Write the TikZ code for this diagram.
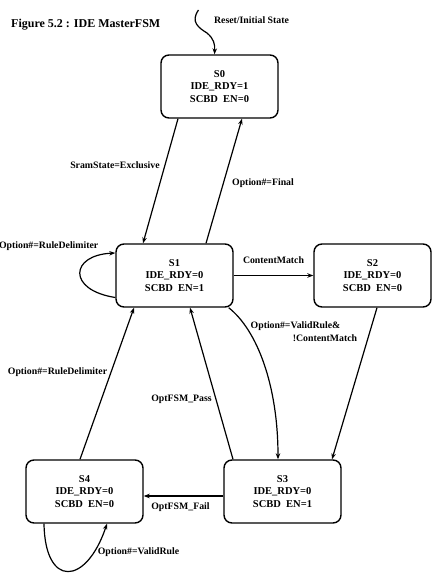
\documentclass[tikz,border=0pt]{standalone}
\usepackage{fontspec}
\setmainfont{Liberation Serif}
\usetikzlibrary{arrows.meta,calc}
\begin{document}
\begin{tikzpicture}[x=1pt,y=-1pt,
  statebox/.style={draw,line width=1.4pt,rounded corners=8pt,minimum width=117pt,minimum height=63pt,inner sep=0pt,align=center,font=\fontsize{10.5}{12.5}\selectfont\bfseries},
  lbl/.style={inner sep=0pt,font=\fontsize{9.8}{11.5}\selectfont\bfseries},
  edge/.style={line width=1.2pt,-{Stealth[length=6pt,width=4.5pt]}}]
\useasboundingbox (0,0) rectangle (433,574);
\node[statebox] (S0) at (219.5,86.5) {S0\\IDE\_RDY=1\\SCBD\ \ EN=0};
\node[statebox] (S1) at (174.5,275.5) {S1\\IDE\_RDY=0\\SCBD\ \ EN=1};
\node[statebox] (S2) at (372.5,275.5) {S2\\IDE\_RDY=0\\SCBD\ \ EN=0};
\node[statebox] (S3) at (282.5,491.5) {S3\\IDE\_RDY=0\\SCBD\ \ EN=1};
\node[statebox] (S4) at (84.5,491.5) {S4\\IDE\_RDY=0\\SCBD\ \ EN=0};
\node[inner sep=0pt,anchor=west,font=\fontsize{12}{14}\selectfont\bfseries] (title) at (11,25) {Figure 5.2 : IDE MasterFSM};
\coordinate (init) at (198.5,10);
\draw[edge] (init) .. controls (190,22) and (199,28) .. (207,33) .. controls (214,39) and (215,44) .. ($(S0.north)+(-5,0)$);
\node[lbl] (lreset) at (251.5,20) {Reset/Initial State};
% S0 -> S1
\draw[edge] ($(S0.south)+(-41.5,0)$) -- ($(S1.north)+(-31.5,0)$);
\node[lbl] (lsram) at (115,165) {SramState=Exclusive};
% S1 -> S0
\draw[edge] ($(S1.north)+(31.5,0)$) -- ($(S0.south)+(22.5,0)$);
\node[lbl] (lfinal) at (263,183) {Option\#=Final};
% S1 self loop
\draw[edge] ($(S1.west)+(0,22)$) .. controls (67,290) and (70,255) .. ($(S1.west)+(0,-22.5)$);
\node[lbl,anchor=east] (lrd1) at (98.5,246.5) {Option\#=RuleDelimiter};
% S1 -> S2
\draw[edge] (S1.east) -- (S2.west);
\node[lbl] (lcm) at (273.5,260.5) {ContentMatch};
% S1 -> S3
\draw[edge] ($(S1.south east)+(-5,0)$) .. controls (257,330) and (278,385) .. ($(S3.north)+(-4.5,0)$);
\node[lbl] (lvr) at (295.5,326.5) {Option\#=ValidRule\&};
\node[lbl] (lncm) at (325,338) {!ContentMatch};
% S2 -> S3
\draw[edge] ($(S2.south)+(4.5,0)$) -- ($(S3.north)+(49.5,0)$);
% S3 -> S1
\draw[edge] ($(S3.north)+(-49.5,0)$) -- ($(S1.south)+(15.5,0)$);
\node[lbl] (lpass) at (181.5,399.5) {OptFSM\_Pass};
% S4 -> S1
\draw[edge] ($(S4.north)+(-4.5,0)$) -- ($(S1.south)+(-40.5,0)$);
\node[lbl] (lrd2) at (57.5,372) {Option\#=RuleDelimiter};
% S3 -> S4
\draw[edge] ($(S3.west)+(0,4.5)$) -- ($(S4.east)+(0,4.5)$);
\node[lbl] (lfail) at (180.5,507.5) {OptFSM\_Fail};
% S4 self loop
\draw[edge] ($(S4.south)+(-40.5,0)$) .. controls (45,588) and (86,586) .. ($(S4.south)+(22.5,0)$);
\node[lbl] (lvr2) at (138.5,552) {Option\#=ValidRule};
\end{tikzpicture}
\end{document}
